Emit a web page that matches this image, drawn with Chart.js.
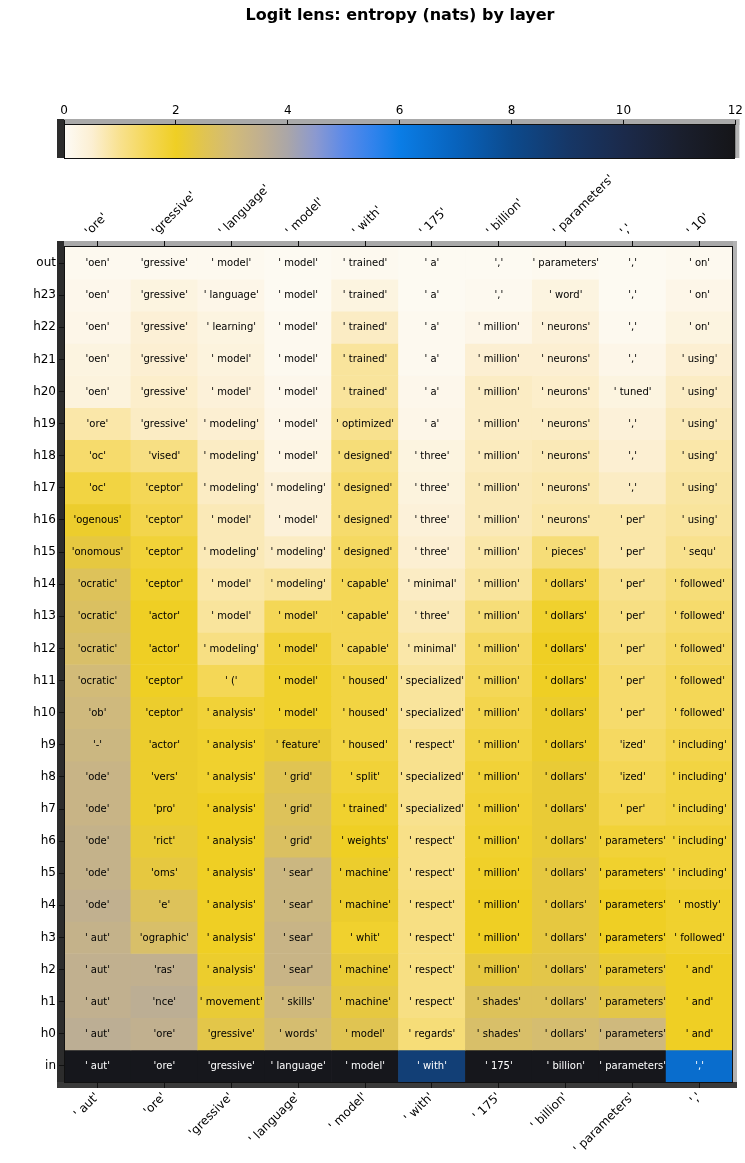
<!DOCTYPE html>
<html><head><meta charset="utf-8">
<script src="https://cdn.jsdelivr.net/npm/chart.js@4/dist/chart.umd.min.js"></script>
<style>
html,body{margin:0;padding:0;background:#fff;width:745px;height:1163px;overflow:hidden}
.box{position:absolute;left:0}
</style></head><body>
<div class="box" style="top:0;width:745px;height:170px"><canvas id="cb" width="745" height="170"></canvas></div>
<div class="box" style="top:170px;width:745px;height:993px"><canvas id="hm" width="745" height="993"></canvas></div>
<script>
const chartTitle = "Logit lens: entropy (nats) by layer";
const inputTokens = [" aut","ore","gressive"," language"," model"," with"," 175"," billion"," parameters",","];
const targetTokens = ["ore","gressive"," language"," model"," with"," 175"," billion"," parameters",","," 10"];
const layerLabels = ["out","h23","h22","h21","h20","h19","h18","h17","h16","h15","h14","h13","h12","h11","h10","h9","h8","h7","h6","h5","h4","h3","h2","h1","h0","in"];
const colorbarTicks = [0,2,4,6,8,10,12];

// predicted tokens per column, top row (out) to bottom row (in)
const tok1 = ["oen","oen","oen","oen","oen","ore","oc","oc","ogenous","onomous","ocratic","ocratic","ocratic","ocratic","ob","-","ode","ode","ode","ode","ode"," aut"," aut"," aut"," aut"," aut"];
const tok2 = ["gressive","gressive","gressive","gressive","gressive","gressive","vised","ceptor","ceptor","ceptor","ceptor","actor","actor","ceptor","ceptor","actor","vers","pro","rict","oms","e","ographic","ras","nce","ore","ore"];
const tok3 = [" model"," language"," learning"," model"," model"," modeling"," modeling"," modeling"," model"," modeling"," model"," model"," modeling"," ("," analysis"," analysis"," analysis"," analysis"," analysis"," analysis"," analysis"," analysis"," analysis"," movement","gressive","gressive"];
const tok4 = [" model"," model"," model"," model"," model"," model"," model"," modeling"," model"," modeling"," modeling"," model"," model"," model"," model"," feature"," grid"," grid"," grid"," sear"," sear"," sear"," sear"," skills"," words"," language"];
const tok5 = [" trained"," trained"," trained"," trained"," trained"," optimized"," designed"," designed"," designed"," designed"," capable"," capable"," capable"," housed"," housed"," housed"," split"," trained"," weights"," machine"," machine"," whit"," machine"," machine"," model"," model"];
const tok6 = [" a"," a"," a"," a"," a"," a"," three"," three"," three"," three"," minimal"," three"," minimal"," specialized"," specialized"," respect"," specialized"," specialized"," respect"," respect"," respect"," respect"," respect"," respect"," regards"," with"];
const tok7 = [",",","," million"," million"," million"," million"," million"," million"," million"," million"," million"," million"," million"," million"," million"," million"," million"," million"," million"," million"," million"," million"," million"," shades"," shades"," 175"];
const tok8 = [" parameters"," word"," neurons"," neurons"," neurons"," neurons"," neurons"," neurons"," neurons"," pieces"," dollars"," dollars"," dollars"," dollars"," dollars"," dollars"," dollars"," dollars"," dollars"," dollars"," dollars"," dollars"," dollars"," dollars"," dollars"," billion"];
const tok9 = [",",",",",",","," tuned",",",",",","," per"," per"," per"," per"," per"," per"," per","ized","ized"," per"," parameters"," parameters"," parameters"," parameters"," parameters"," parameters"," parameters"," parameters"];
const tok10 = [" on"," on"," on"," using"," using"," using"," using"," using"," using"," sequ"," followed"," followed"," followed"," followed"," followed"," including"," including"," including"," including"," including"," mostly"," followed"," and"," and"," and",","];

// entropy per column, top row to bottom row
const ent1 = [0.1,0.15,0.2,0.3,0.35,0.8,1.3,1.7,2.1,2.3,2.6,2.7,2.8,3.0,3.1,3.2,3.3,3.3,3.4,3.4,3.5,3.4,3.5,3.5,3.6,11.8];
const ent2 = [0.1,0.3,0.45,0.5,0.55,0.6,1.1,1.5,1.6,1.8,1.9,2.0,2.0,2.0,2.1,2.1,2.1,2.1,2.2,2.3,2.6,2.8,3.5,3.6,3.5,11.8];
const ent3 = [0.1,0.2,0.3,0.35,0.4,0.5,0.6,0.6,0.7,0.7,0.8,0.9,1.1,1.5,1.8,1.9,1.9,2.0,2.0,2.0,2.0,2.0,2.1,2.2,2.4,11.8];
const ent4 = [0.05,0.05,0.1,0.1,0.15,0.2,0.25,0.4,0.4,0.6,0.9,1.5,1.8,1.9,1.9,2.2,2.5,2.6,2.7,3.2,3.2,3.3,3.3,3.1,2.9,11.8];
const ent5 = [0.1,0.3,0.6,0.9,0.9,1.0,1.2,1.3,1.3,1.4,1.5,1.5,1.5,1.7,1.7,1.7,1.8,1.9,2.0,2.1,2.1,1.9,2.2,2.3,2.5,11.8];
const ent6 = [0.05,0.05,0.1,0.1,0.15,0.2,0.3,0.35,0.4,0.5,0.6,0.7,0.8,0.9,0.9,1.0,1.0,1.0,1.05,1.05,1.1,1.1,1.1,1.1,1.2,8.6];
const ent7 = [0.05,0.1,0.2,0.5,0.6,0.6,0.65,0.7,0.7,0.8,0.9,1.2,1.4,1.5,1.6,1.7,1.8,1.85,1.9,1.95,2.0,2.0,2.3,2.6,2.8,11.8];
const ent8 = [0.1,0.3,0.4,0.5,0.55,0.6,0.7,0.75,0.8,1.2,1.6,1.9,2.0,2.0,2.1,2.1,2.2,2.2,2.2,2.3,2.3,2.3,2.4,2.6,2.9,11.8];
const ent9 = [0.05,0.05,0.1,0.2,0.3,0.4,0.5,0.6,0.8,0.8,1.0,1.1,1.2,1.3,1.3,1.4,1.5,1.6,1.8,1.9,2.0,2.0,2.2,2.4,3.1,11.8];
const ent10 = [0.1,0.2,0.3,0.5,0.6,0.7,0.8,0.85,0.9,1.0,1.2,1.3,1.4,1.5,1.5,1.6,1.7,1.7,1.8,1.8,1.9,1.9,2.0,2.0,2.0,6.6];

const tokCols = [tok1,tok2,tok3,tok4,tok5,tok6,tok7,tok8,tok9,tok10];
const entCols = [ent1,ent2,ent3,ent4,ent5,ent6,ent7,ent8,ent9,ent10];

const FONT = "'DejaVu Sans', sans-serif";
const VMIN = 0, VMAX = 12;
const cmapStops = [[0,'#fdfbf6'],[0.5,'#fcefd2'],[1,'#f8e18e'],[1.5,'#f4d756'],[2,'#efcf24'],[2.5,'#e0c452'],[3,'#d2bb78'],[3.5,'#c1b08f'],[4,'#aaa6a8'],[4.5,'#8b99d0'],[5,'#5c8ae8'],[5.5,'#3383ec'],[6,'#0a7de6'],[7,'#0863bd'],[8,'#0c4a8d'],[9,'#163767'],[10,'#1b2a4b'],[11,'#1a1f2e'],[12,'#151518']];
function hex2rgb(h){return [parseInt(h.slice(1,3),16),parseInt(h.slice(3,5),16),parseInt(h.slice(5,7),16)];}
function colorFor(v){
  if (v <= cmapStops[0][0]) return cmapStops[0][1];
  for (let i=1;i<cmapStops.length;i++){
    if (v <= cmapStops[i][0]){
      const [v0,c0]=cmapStops[i-1],[v1,c1]=cmapStops[i];
      const t=(v-v0)/(v1-v0), a=hex2rgb(c0), b=hex2rgb(c1);
      return 'rgb('+a.map((x,k)=>Math.round(x+(b[k]-x)*t)).join(',')+')';
    }
  }
  return cmapStops[cmapStops.length-1][1];
}
const q = t => "'" + t + "'";
const nRows = layerLabels.length;

Chart.defaults.font.family = FONT;
Chart.defaults.color = '#000';

// ---------- heatmap ----------
const datasets = layerLabels.map((lab, r) => {
  const k = nRows - 1 - r;
  return {
    label: lab,
    data: inputTokens.map(() => [k, k + 1]),
    backgroundColor: entCols.map(col => colorFor(col[r])),
    borderWidth: 0,
    grouped: false,
    barPercentage: 1,
    categoryPercentage: 1,
    rowIndex: r
  };
});

const frame = {
  id: 'frame',
  beforeDraw(chart, args, opts) {
    const {ctx, chartArea: a} = chart;
    ctx.save();
    ctx.fillStyle = '#a9a9a9';
    ctx.fillRect(a.left - 7, a.top - 6, a.right - a.left + 11, 6);
    ctx.fillStyle = '#b3b3b3';
    ctx.fillRect(a.right, a.top - 6, 4, a.bottom - a.top + (opts.bottom ? 12 : 6));
    ctx.fillStyle = '#2c2c2c';
    ctx.fillRect(a.left - 7, a.top - 6, 7, a.bottom - a.top + (opts.bottom ? 12 : 6));
    if (opts.bottom) {
      ctx.fillStyle = '#3a3a3a';
      ctx.fillRect(a.left - 7, a.bottom, a.right - a.left + 11, 6);
    }
    ctx.restore();
  },
  afterDraw(chart) {
    const {ctx, chartArea: a} = chart;
    ctx.save();
    ctx.strokeStyle = '#111';
    ctx.lineWidth = 1;
    ctx.strokeRect(Math.round(a.left) + 0.5, Math.round(a.top) - 0.5, Math.round(a.right - a.left) - 1, Math.round(a.bottom - a.top) + 1);
    ctx.restore();
  }
};

const cellText = {
  id: 'cellText',
  afterDatasetsDraw(chart) {
    const ctx = chart.ctx;
    ctx.save();
    ctx.font = "10px " + FONT;
    ctx.textAlign = 'center';
    ctx.textBaseline = 'middle';
    chart.data.datasets.forEach((ds, di) => {
      const meta = chart.getDatasetMeta(di);
      meta.data.forEach((el, ci) => {
        const r = ds.rowIndex;
        const v = entCols[ci][r];
        ctx.fillStyle = v > 5 ? '#ffffff' : '#000000';
        ctx.fillText(q(tokCols[ci][r]), el.x, (el.y + el.base) / 2 + 0.5);
      });
    });
    ctx.restore();
  }
};

const tickFont = {size: 12, family: FONT};
new Chart(document.getElementById('hm'), {
  type: 'bar',
  data: { labels: inputTokens.map(q), datasets },
  options: {
    responsive: false, animation: false, devicePixelRatio: 1,
    layout: { padding: { left: 0, right: 12, top: 0, bottom: 0 } },
    plugins: { legend: {display: false}, tooltip: {enabled: false}, frame: {bottom: true} },
    scales: {
      x: {
        type: 'category', position: 'bottom', offset: true,
        grid: { offset: false, drawOnChartArea: false, tickLength: 6, color: '#111' },
        border: { display: false },
        ticks: { autoSkip: false, maxRotation: 45, minRotation: 45, font: tickFont, color: '#000', padding: 2 },
        afterFit(s) { s.height = 81; }
      },
      x2: {
        type: 'category', position: 'top', offset: true, labels: targetTokens.map(q),
        grid: { offset: false, drawOnChartArea: false, tickLength: 6, color: '#111' },
        border: { display: false },
        ticks: { autoSkip: false, maxRotation: 45, minRotation: 45, font: tickFont, color: '#000', padding: 2 },
        afterFit(s) { s.height = 77; }
      },
      y: {
        type: 'linear', min: 0, max: nRows,
        afterBuildTicks(s) { s.ticks = layerLabels.map((_, i) => ({ value: i + 0.5 })); },
        grid: { drawOnChartArea: false, tickLength: 5, color: '#111' },
        border: { display: false },
        ticks: { autoSkip: false, font: tickFont, color: '#000', padding: 3,
          callback: (v) => layerLabels[nRows - 1 - Math.floor(v)] },
        afterFit(s) { s.width = 64; }
      }
    }
  },
  plugins: [frame, cellText]
});

// ---------- colorbar ----------
const gradientFill = {
  id: 'gradientFill',
  beforeDatasetsDraw(chart) {
    const {ctx, chartArea: a} = chart;
    const xs = chart.scales.x;
    const g = ctx.createLinearGradient(xs.getPixelForValue(VMIN), 0, xs.getPixelForValue(VMAX), 0);
    cmapStops.forEach(([v, c]) => g.addColorStop((v - VMIN) / (VMAX - VMIN), c));
    ctx.save();
    ctx.fillStyle = g;
    ctx.fillRect(a.left, a.top, a.right - a.left, a.bottom - a.top);
    ctx.restore();
  }
};
new Chart(document.getElementById('cb'), {
  type: 'scatter',
  data: { datasets: [{ data: [] }] },
  options: {
    responsive: false, animation: false, devicePixelRatio: 1,
    layout: { padding: { left: 64, right: 9, top: 0, bottom: 12 } },
    plugins: {
      legend: {display: false}, tooltip: {enabled: false}, frame: {bottom: false},
      title: { display: true, text: chartTitle, color: '#000', font: { size: 16, weight: 'bold', family: FONT }, padding: { top: 6, bottom: 0 } }
    },
    scales: {
      x: {
        type: 'linear', position: 'top', min: VMIN, max: VMAX,
        afterBuildTicks(s) { s.ticks = colorbarTicks.map(v => ({ value: v })); },
        grid: { drawOnChartArea: false, tickLength: 5, color: '#111' },
        border: { display: false },
        ticks: { font: tickFont, color: '#000', padding: 2 },
        afterFit(s) { s.height = 99.8; }
      },
      y: { display: false, min: 0, max: 1 }
    }
  },
  plugins: [frame, gradientFill]
});
</script>
</body></html>
